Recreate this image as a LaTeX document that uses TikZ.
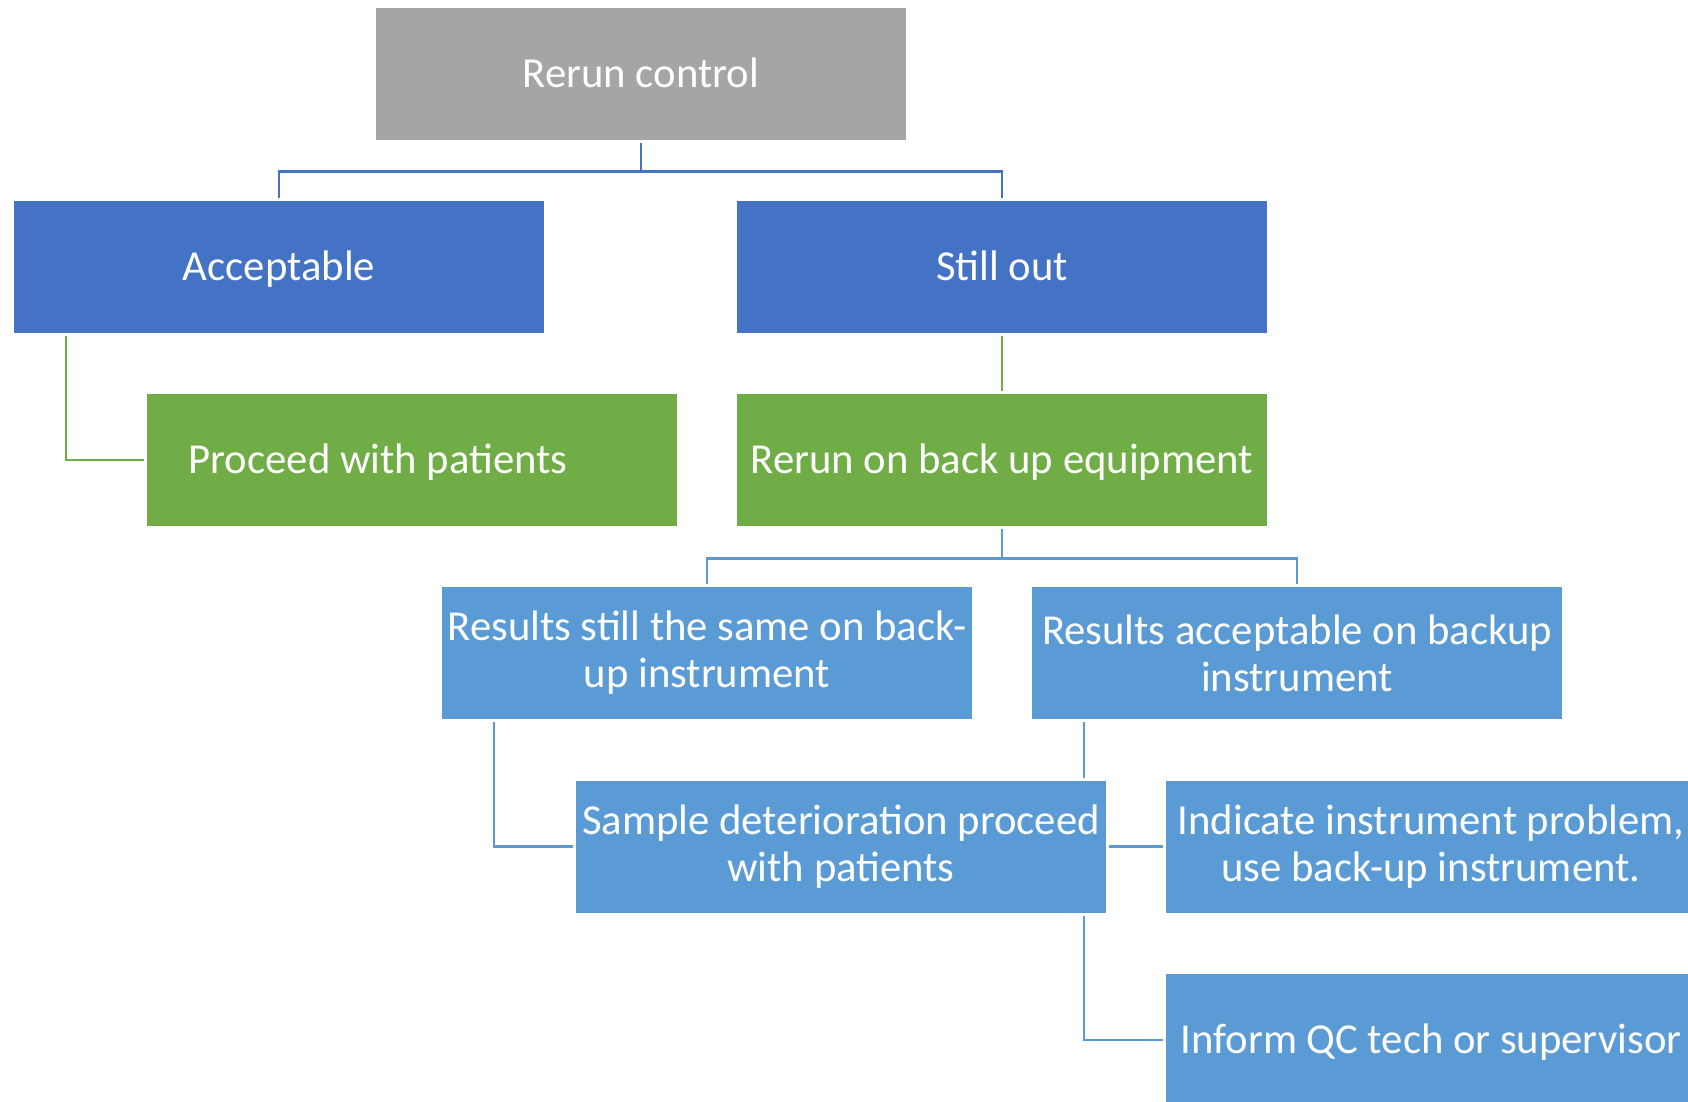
\documentclass[tikz,border=0pt]{standalone}
\usepackage{fontspec}
\setmainfont{Carlito}
\usetikzlibrary{backgrounds}
\definecolor{greybox}{HTML}{A5A5A5}
\definecolor{darkblue}{HTML}{4472C4}
\definecolor{leafgreen}{HTML}{70AD47}
\definecolor{lightblue}{HTML}{5B9BD5}
\begin{document}
\begin{tikzpicture}[x=1pt, y=-1pt,
  box/.style={draw=white, line width=3pt, outer sep=0pt,
    minimum width=533pt, minimum height=135pt, inner sep=0pt,
    text=white, align=center, font=\fontsize{42.7}{47}\selectfont},
  oneline/.style={text height=27.5pt, text depth=0pt},
  greyb/.style={box, fill=greybox},
  blueb/.style={box, fill=darkblue},
  greenb/.style={box, fill=leafgreen},
  lightb/.style={box, fill=lightblue},
  wire/.style={line width=2.4pt},
]
\useasboundingbox (0,0) rectangle (1688,1101);
\clip (0,0) rectangle (1688,1101);

% boxes
\node[greyb, oneline]  (rc)     at (641,74)    {Rerun control};
\node[blueb, oneline]  (acc)    at (279,266.5) {Acceptable};
\node[blueb, oneline]  (still)  at (1002,266.5){Still out};
\node[greenb, oneline] (proc)   at (412,460)   {Proceed with patients\hspace*{68pt}};
\node[greenb, oneline] (backup) at (1002,460)  {Rerun on back up equipment};
\node[lightb] (same)   at (707,653)   {Results still the same on back-\\up instrument};
\node[lightb] (racc)   at (1297,653)  {Results acceptable on backup\\instrument};
\node[lightb] (samp)   at (841,846.5) {Sample deterioration proceed\\with patients};
\node[lightb] (ind)    at (1431,846.5){Indicate instrument problem,\\use back-up instrument.};
\node[lightb, oneline] (inf)    at (1431,1040) {Inform QC tech or supervisor};

% connectors, kept behind the boxes
\begin{scope}[on background layer]
  \draw[wire, darkblue] (rc.south) -- ++(0,30) -| (acc.north);
  \draw[wire, darkblue] (rc.south) -- ++(0,30) -| (still.north);
  \draw[wire, leafgreen] ([xshift=53.5pt]acc.south west) |- (proc.west);
  \draw[wire, leafgreen] (still.south) -- (backup.north);
  \draw[wire, lightblue] (backup.south) -- ++(0,31) -| (same.north);
  \draw[wire, lightblue] (backup.south) -- ++(0,31) -| (racc.north);
  \draw[wire, lightblue] ([xshift=53.5pt]same.south west) |- (samp.west);
  \draw[wire, lightblue] ([xshift=53.5pt]racc.south west) |- (ind.west);
  \draw[wire, lightblue] ([xshift=53.5pt]racc.south west) |- (inf.west);
\end{scope}
\end{tikzpicture}
\end{document}
